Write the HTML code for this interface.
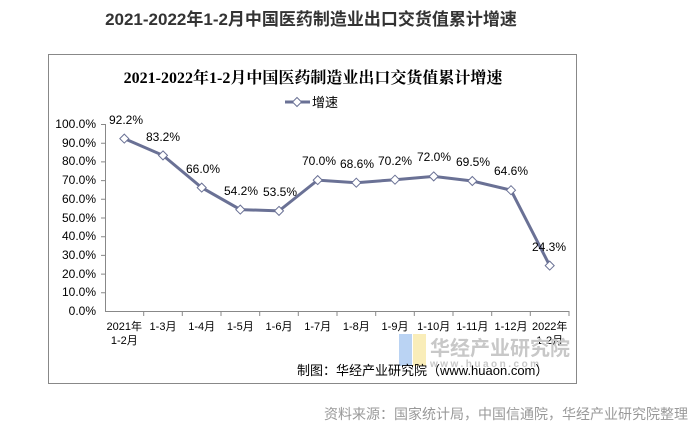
<!DOCTYPE html><html><head><meta charset="utf-8"><style>
body{margin:0;width:694px;height:435px;background:#fff;overflow:hidden;font-family:"Liberation Sans","Noto Sans CJK SC",sans-serif}
</style></head><body>
<svg width="694" height="435" xmlns="http://www.w3.org/2000/svg" font-family="Liberation Sans, Noto Sans CJK SC, sans-serif">
<text x="311" y="25" text-anchor="middle" font-size="17" font-weight="bold" fill="#333">2021-2022年1-2月中国医药制造业出口交货值累计增速</text>
<rect x="48.5" y="54.5" width="528" height="329" fill="#fff" stroke="#888"/>
<text x="313" y="83" text-anchor="middle" font-size="16" font-weight="bold" fill="#000" font-family="Liberation Serif, Noto Serif CJK SC, serif">2021-2022年1-2月中国医药制造业出口交货值累计增速</text>
<line x1="285" y1="102" x2="310" y2="102" stroke="#6a7195" stroke-width="3"/>
<path d="M297 97.5 L301.5 102 L297 106.5 L292.5 102Z" fill="#fff" stroke="#6a7195"/>
<text x="312" y="107" font-size="13">增速</text>
<g font-size="12" fill="#000" text-anchor="end">
<text x="96" y="128">100.0%</text><text x="96" y="147">90.0%</text><text x="96" y="165">80.0%</text><text x="96" y="184">70.0%</text><text x="96" y="203">60.0%</text><text x="96" y="222">50.0%</text><text x="96" y="240">40.0%</text><text x="96" y="259">30.0%</text><text x="96" y="278">20.0%</text><text x="96" y="296">10.0%</text><text x="96" y="315">0.0%</text>
</g>
<g stroke="#888" fill="none">
<path d="M105.5 124V311.5H569"/>
<path d="M101 124.5h5M101 143.2h5M101 161.9h5M101 180.6h5M101 199.3h5M101 218h5M101 236.7h5M101 255.4h5M101 274.1h5M101 292.8h5"/>
<path d="M143.7 311v5M182.3 311v5M221 311v5M259.7 311v5M298.3 311v5M337 311v5M375.7 311v5M414.3 311v5M453 311v5M491.7 311v5M530.3 311v5M569 311v5"/>
</g>
<g font-size="11" text-anchor="middle" fill="#000">
<text x="124.3" y="330">2021年</text><text x="124.3" y="344">1-2月</text>
<text x="163" y="330">1-3月</text><text x="201.7" y="330">1-4月</text><text x="240.3" y="330">1-5月</text><text x="279" y="330">1-6月</text><text x="317.7" y="330">1-7月</text><text x="356.3" y="330">1-8月</text><text x="395" y="330">1-9月</text><text x="433.7" y="330">1-10月</text><text x="472.3" y="330">1-11月</text><text x="511" y="330">1-12月</text><text x="549.7" y="330">2022年</text><text x="549.7" y="344">1-2月</text>
</g>
<rect x="399" y="334" width="13" height="32" fill="#a9c8f0" opacity="0.8"/>
<rect x="413" y="334" width="13" height="32" fill="#f8e9a8" opacity="0.8"/>
<text x="430" y="355" font-size="20" font-weight="bold" fill="#c8c8c8">华经产业研究院</text>
<text x="430" y="367" font-size="10" font-weight="bold" fill="#c8c8c8" letter-spacing="2.5">www.huaon.com</text>
<text x="297" y="375" font-size="13" fill="#000">制图：华经产业研究院（www.huaon.com）</text>
<polyline fill="none" stroke="#6a7195" stroke-width="3" points="124.3,138.6 163,155.4 201.7,187.6 240.3,209.6 279,210.9 317.7,180.1 356.3,182.7 395,179.7 433.7,176.4 472.3,181 511,190.2 549.7,265.6"/>
<g fill="#fff" stroke="#6a7195">
<path d="M124.3 134.1l4.5 4.5l-4.5 4.5l-4.5-4.5Z"/><path d="M163 150.9l4.5 4.5l-4.5 4.5l-4.5-4.5Z"/><path d="M201.7 183.1l4.5 4.5l-4.5 4.5l-4.5-4.5Z"/><path d="M240.3 205.1l4.5 4.5l-4.5 4.5l-4.5-4.5Z"/><path d="M279 206.4l4.5 4.5l-4.5 4.5l-4.5-4.5Z"/><path d="M317.7 175.6l4.5 4.5l-4.5 4.5l-4.5-4.5Z"/><path d="M356.3 178.2l4.5 4.5l-4.5 4.5l-4.5-4.5Z"/><path d="M395 175.2l4.5 4.5l-4.5 4.5l-4.5-4.5Z"/><path d="M433.7 171.9l4.5 4.5l-4.5 4.5l-4.5-4.5Z"/><path d="M472.3 176.5l4.5 4.5l-4.5 4.5l-4.5-4.5Z"/><path d="M511 185.7l4.5 4.5l-4.5 4.5l-4.5-4.5Z"/><path d="M549.7 261.1l4.5 4.5l-4.5 4.5l-4.5-4.5Z"/>
</g>
<g font-size="12" fill="#000" text-anchor="middle">
<text x="126" y="124">92.2%</text><text x="163" y="141">83.2%</text><text x="203" y="173">66.0%</text><text x="241" y="195">54.2%</text><text x="280" y="196">53.5%</text><text x="319" y="165">70.0%</text><text x="357" y="168">68.6%</text><text x="395" y="165">70.2%</text><text x="434" y="161">72.0%</text><text x="473" y="166">69.5%</text><text x="511" y="175">64.6%</text><text x="549" y="251">24.3%</text>
</g>
<text x="688" y="419" text-anchor="end" font-size="14" fill="#999">资料来源：国家统计局，中国信通院，华经产业研究院整理</text>
</svg>
</body></html>
